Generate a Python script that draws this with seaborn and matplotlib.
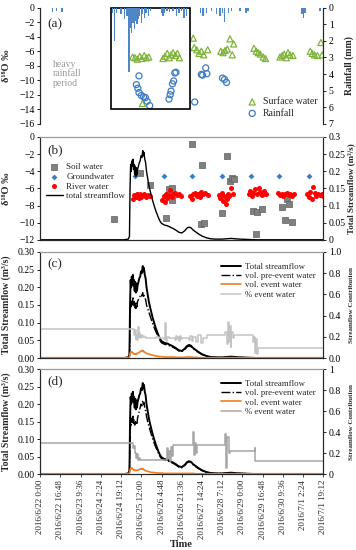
import matplotlib
matplotlib.use("Agg")
import matplotlib.pyplot as plt
from matplotlib.patches import Rectangle
from matplotlib.ticker import FormatStrFormatter
import seaborn as sns

# time axis: days since 2016/6/22 0:00
time_ticks = [0.0, 0.7, 1.4, 2.1, 2.8, 3.5, 4.2, 4.9, 5.6, 6.3, 7.0, 7.7, 8.4, 9.1, 9.8]
time_labels = ["2016/6/22 0:00", "2016/6/22 16:48", "2016/6/23 9:36", "2016/6/24 2:24",
               "2016/6/24 19:12", "2016/6/25 12:00", "2016/6/26 4:48", "2016/6/26 21:36",
               "2016/6/27 14:24", "2016/6/28 7:12", "2016/6/29 0:00", "2016/6/29 16:48",
               "2016/6/30 9:36", "2016/7/1 2:24", "2016/7/1 19:12"]

# (a) rainfall depth and isotopes
rain_day = [0.42, 0.56, 0.76,
            2.51, 2.57, 2.65, 2.80, 2.92, 3.00, 3.07, 3.12, 3.16, 3.21, 3.26,
            3.30, 3.35, 3.39, 3.44, 3.50, 3.55, 3.61, 3.67, 3.74, 3.81,
            4.19, 4.25, 4.31, 4.39, 4.48, 4.60, 4.71, 4.81, 4.89, 4.98, 5.06,
            5.55, 5.64, 5.76, 5.93, 6.10, 6.22, 6.31, 6.39, 6.51, 6.63, 6.91, 7.12, 7.20,
            9.06, 9.11, 9.17, 9.69]
rain_mm = [0.25, 0.2, 0.25,
           0.3, 2.0, 0.3, 0.4, 0.7, 0.5, 3.85, 1.2, 1.5, 0.9, 1.3,
           0.8, 1.0, 0.7, 0.5, 0.9, 0.4, 0.6, 0.3, 0.5, 0.2,
           0.3, 0.5, 0.3, 0.2, 0.25, 0.2, 0.5, 0.3, 0.2, 0.6, 0.5,
           0.3, 0.5, 0.3, 0.2, 0.4, 0.5, 0.3, 0.85, 0.3, 0.2, 0.2, 0.3, 0.2,
           0.4, 0.6, 0.3, 0.2]

surface_day = [3.20, 3.28, 3.36, 3.45, 3.52, 3.60, 3.68, 3.76, 3.54,
               4.25, 4.32, 4.40, 4.47, 4.53, 4.60, 4.68, 4.75, 4.82,
               5.30, 5.33, 5.42, 5.50, 5.58, 5.66, 5.80,
               6.25, 6.33, 6.40, 6.48, 6.57, 6.65, 6.70,
               7.40, 7.48, 7.55, 7.62, 7.72, 7.80,
               8.30, 8.38, 8.45, 8.52, 8.58, 8.65, 8.75,
               9.35, 9.42, 9.50, 9.60, 9.72, 9.76]
surface_d18o = [-6.8, -6.9, -7.1, -6.7, -7.0, -6.6, -6.9, -6.8, -13.2,
                -7.0, -6.7, -6.3, -6.9, -6.5, -6.2, -6.6, -6.3, -6.9,
                -4.2, -5.5, -5.8, -6.3, -6.0, -6.5, -5.8,
                -6.0, -6.2, -5.9, -5.7, -4.3, -6.5, -5.0,
                -5.6, -6.0, -6.2, -6.4, -6.8, -7.0,
                -6.8, -6.6, -6.4, -6.9, -6.2, -6.5, -6.6,
                -6.0, -6.3, -6.5, -6.6, -4.8, -6.5]

rain_iso_day = [3.42, 3.33, 3.38, 3.42, 3.50, 3.58, 3.64, 3.70, 3.79,
                4.46, 4.50, 4.53, 4.58, 4.62, 4.66, 4.70,
                5.35, 5.58, 5.73, 5.77, 5.62,
                6.31, 6.38, 6.45]
rain_iso_d18o = [-9.4, -10.6, -11.1, -11.7, -12.1, -12.3, -12.4, -12.9, -13.5,
                 -12.6, -12.0, -11.5, -10.5, -10.1, -9.0, -8.9,
                 -13.0, -9.2, -8.3, -9.1, -9.3,
                 -9.7, -9.9, -10.3]

# heavy rainfall period box (days)
heavy_start, heavy_end, heavy_bottom = 2.46, 5.20, -14.0

# (b) end members
soil_day = [2.54, 3.44, 3.79, 4.37, 4.46, 4.58, 4.58, 5.27, 5.60, 5.55, 5.66, 6.31, 6.47,
            6.57, 6.63, 6.70, 7.36, 7.50, 7.68, 7.47, 8.38, 8.55, 8.62, 8.47, 8.72]
soil_d18o = [-9.6, -4.25, -5.6, -9.4, -6.1, -5.9, -7.3, -0.85, -3.25, -10.2, -10.0, -8.85, -2.25,
             -5.1, -4.8, -4.9, -8.6, -8.7, -8.4, -11.35, -8.15, -7.2, -7.85, -9.65, -9.95]

gw_day = [3.27, 4.27, 5.27, 6.28, 7.29, 8.28, 9.29]
gw_d18o = [-4.5, -4.5, -4.5, -4.5, -4.5, -4.5, -4.5]

river_day = [3.22, 3.26, 3.30, 3.34, 3.38, 3.42, 3.46, 3.50, 3.55, 3.60, 3.66, 3.72, 3.80,
             4.22, 4.27, 4.31, 4.36, 4.40, 4.45, 4.50, 4.55, 4.60, 4.66, 4.72, 4.80, 4.88,
             5.20, 5.25, 5.30, 5.36, 5.42, 5.48, 5.53, 5.58, 5.65, 5.72, 5.80,
             6.20, 6.24, 6.28, 6.33, 6.38, 6.42, 6.46, 6.50, 6.55, 6.60, 6.66,
             7.22, 7.27, 7.32, 7.38, 7.44, 7.50, 7.56, 7.62, 7.68, 7.75, 7.82,
             8.24, 8.30, 8.36, 8.42, 8.48, 8.54, 8.60, 8.66, 8.72, 8.80,
             9.25, 9.30, 9.35, 9.40, 9.45, 9.50, 9.56, 9.62, 9.68, 9.74, 9.80]
river_d18o = [-7.2, -6.8, -7.0, -6.6, -6.9, -7.1, -6.7, -7.0, -6.8, -6.6, -7.0, -6.8, -6.9,
              -7.3, -6.9, -7.6, -6.6, -7.1, -6.8, -6.2, -7.0, -6.7, -6.5, -6.8, -6.6, -6.9,
              -6.9, -7.2, -6.7, -6.5, -6.9, -6.6, -7.0, -6.4, -6.7, -6.5, -6.8,
              -6.8, -7.1, -6.5, -7.5, -6.9, -7.8, -7.2, -6.6, -6.9, -6.0, -6.7,
              -6.6, -6.3, -6.9, -6.5, -6.1, -6.7, -6.0, -6.4, -6.8, -6.3, -6.6,
              -6.5, -6.8, -6.6, -6.9, -6.7, -6.5, -6.8, -6.6, -6.9, -6.7,
              -6.6, -7.0, -6.4, -7.2, -5.8, -6.5, -6.9, -6.6, -6.8, -6.7, -6.9]

# streamflow (m3/s)
flow_day = [0.00, 2.90, 3.05, 3.09, 3.11, 3.13, 3.15, 3.17,
            3.19, 3.21, 3.23, 3.25, 3.27, 3.29, 3.31, 3.33,
            3.35, 3.37, 3.40, 3.43, 3.46, 3.49, 3.52, 3.55,
            3.57, 3.59, 3.62, 3.65, 3.68, 3.72, 3.76, 3.80,
            3.85, 3.90, 3.95, 4.00, 4.05, 4.10, 4.15, 4.20,
            4.30, 4.40, 4.50, 4.60, 4.70, 4.80, 4.90, 5.00,
            5.08, 5.15, 5.22, 5.30, 5.40, 5.50, 5.60, 5.75,
            5.90, 6.05, 6.30, 6.60, 6.90, 7.20, 7.50, 9.80]
total_flow = [0.000, 0.000, 0.002, 0.010, 0.150, 0.220, 0.200, 0.230,
              0.215, 0.235, 0.205, 0.220, 0.190, 0.215, 0.185, 0.210,
              0.190, 0.205, 0.215, 0.225, 0.230, 0.245, 0.240, 0.260,
              0.245, 0.255, 0.235, 0.225, 0.200, 0.180, 0.160, 0.145,
              0.128, 0.112, 0.098, 0.085, 0.074, 0.063, 0.054, 0.048,
              0.043, 0.041, 0.037, 0.033, 0.028, 0.022, 0.020, 0.026,
              0.034, 0.037, 0.035, 0.028, 0.022, 0.016, 0.011, 0.006,
              0.003, 0.002, 0.002, 0.004, 0.002, 0.001, 0.000, 0.000]
pre_event_c = [0.000, 0.000, 0.001, 0.005, 0.100, 0.160, 0.145, 0.165,
               0.150, 0.170, 0.150, 0.160, 0.140, 0.155, 0.140, 0.155,
               0.145, 0.160, 0.165, 0.170, 0.175, 0.180, 0.175, 0.185,
               0.175, 0.180, 0.170, 0.165, 0.150, 0.140, 0.130, 0.120,
               0.108, 0.096, 0.085, 0.075, 0.066, 0.057, 0.049, 0.043,
               0.039, 0.037, 0.034, 0.030, 0.026, 0.020, 0.018, 0.024,
               0.031, 0.034, 0.032, 0.026, 0.020, 0.015, 0.010, 0.005,
               0.003, 0.002, 0.002, 0.003, 0.002, 0.001, 0.000, 0.000]
event_c = [0.001, 0.001, 0.001, 0.003, 0.012, 0.017, 0.016, 0.018,
           0.016, 0.014, 0.012, 0.013, 0.011, 0.012, 0.011, 0.013,
           0.012, 0.013, 0.015, 0.016, 0.018, 0.020, 0.019, 0.022,
           0.018, 0.019, 0.016, 0.015, 0.013, 0.012, 0.011, 0.010,
           0.009, 0.008, 0.007, 0.006, 0.005, 0.005, 0.004, 0.004,
           0.003, 0.003, 0.003, 0.003, 0.002, 0.002, 0.002, 0.002,
           0.003, 0.003, 0.003, 0.002, 0.002, 0.001, 0.001, 0.001,
           0.001, 0.001, 0.001, 0.001, 0.001, 0.001, 0.001, 0.001]
pre_event_d = [0.000, 0.000, 0.001, 0.005, 0.095, 0.150, 0.140, 0.160,
               0.145, 0.165, 0.145, 0.155, 0.140, 0.150, 0.140, 0.150,
               0.145, 0.160, 0.170, 0.180, 0.190, 0.200, 0.195, 0.210,
               0.200, 0.205, 0.190, 0.180, 0.165, 0.150, 0.138, 0.126,
               0.112, 0.099, 0.087, 0.077, 0.068, 0.058, 0.050, 0.044,
               0.040, 0.038, 0.035, 0.031, 0.026, 0.020, 0.018, 0.024,
               0.032, 0.035, 0.033, 0.026, 0.020, 0.015, 0.010, 0.005,
               0.003, 0.002, 0.002, 0.003, 0.002, 0.001, 0.000, 0.000]
event_d = [0.001, 0.001, 0.001, 0.003, 0.011, 0.016, 0.015, 0.018,
           0.016, 0.014, 0.012, 0.012, 0.010, 0.011, 0.010, 0.011,
           0.010, 0.011, 0.012, 0.013, 0.014, 0.016, 0.014, 0.016,
           0.013, 0.013, 0.011, 0.010, 0.009, 0.008, 0.007, 0.006,
           0.005, 0.005, 0.004, 0.004, 0.003, 0.003, 0.003, 0.003,
           0.002, 0.002, 0.002, 0.002, 0.002, 0.002, 0.002, 0.002,
           0.002, 0.002, 0.002, 0.002, 0.001, 0.001, 0.001, 0.001,
           0.001, 0.001, 0.001, 0.001, 0.001, 0.001, 0.001, 0.001]

# % event water (fraction, step series)
pct_c_day = [0.00, 3.25, 3.27, 3.30, 3.32, 3.35, 3.38, 3.41, 3.43, 3.47,
             3.50, 3.53, 3.56, 3.60, 3.65, 3.75, 4.00, 4.10, 4.20, 4.30,
             4.33, 4.36, 4.40, 4.45, 4.65, 4.70, 4.73, 4.76, 4.80, 4.84,
             4.88, 4.92, 4.95, 5.15, 5.20, 5.25, 5.30, 5.38, 5.45, 5.55,
             5.62, 5.76, 6.40, 6.45, 6.50, 6.53, 6.56, 6.59, 6.62, 6.66,
             6.70, 6.80, 7.37, 7.40, 7.43, 7.47, 7.50, 7.54, 7.60, 9.80]
pct_c = [0.27, 0.22, 0.26, 0.18, 0.22, 0.17, 0.29, 0.20, 0.24, 0.19,
         0.22, 0.20, 0.21, 0.20, 0.19, 0.19, 0.20, 0.19, 0.19, 0.18,
         0.33, 0.16, 0.20, 0.19, 0.17, 0.21, 0.18, 0.20, 0.16, 0.21,
         0.18, 0.19, 0.19, 0.17, 0.21, 0.16, 0.20, 0.15, 0.22, 0.14,
         0.19, 0.22, 0.25, 0.13, 0.34, 0.15, 0.30, 0.10, 0.25, 0.19,
         0.22, 0.22, 0.15, 0.20, 0.05, 0.18, 0.04, 0.09, 0.09, 0.09]
pct_d_day = [0.00, 3.22, 3.25, 3.28, 3.31, 3.34, 3.37, 3.42, 3.47, 4.40,
             4.43, 4.46, 4.49, 4.52, 4.56, 4.60, 5.30, 5.33, 5.36, 5.40,
             5.43, 6.40, 6.44, 6.48, 6.52, 6.56, 7.42, 7.44, 9.80]
pct_d = [0.295, 0.25, 0.27, 0.20, 0.15, 0.19, 0.13, 0.15, 0.13, 0.25,
         0.15, 0.22, 0.12, 0.26, 0.17, 0.28, 0.40, 0.18, 0.30, 0.20,
         0.28, 0.38, 0.06, 0.35, 0.20, 0.22, 0.25, 0.12, 0.12]

sns.set_style("ticks")
plt.rcParams["font.family"] = ["Liberation Serif", "DejaVu Serif"]
plt.rcParams["axes.linewidth"] = 0.8
plt.rcParams["xtick.major.width"] = 0.6
plt.rcParams["ytick.major.width"] = 0.6
plt.rcParams["xtick.major.size"] = 2.5
plt.rcParams["ytick.major.size"] = 2.5

fig = plt.figure(figsize=(3.56, 5.5), dpi=100)
left, width = 0.113, 0.795
tick_fs = 7
lab_fs = 7


def style_axis(ax, twin):
    for a in (ax, twin):
        a.set_xlim(0, 9.8)
        a.tick_params(axis="y", labelsize=tick_fs, pad=1.5, colors="black")
        a.spines["top"].set_color("#999999")


# ---------------- (a)
ax_a = fig.add_axes([left, 0.775, width, 0.211])
sns.scatterplot(x=surface_day, y=surface_d18o, marker="^", s=19, facecolors="none",
                edgecolor="#80b33c", linewidth=0.9, label="Surface water", legend=False, ax=ax_a)
sns.scatterplot(x=rain_iso_day, y=rain_iso_d18o, marker="o", s=19, facecolors="none",
                edgecolor="#3d7cc4", linewidth=0.9, label="Rainfall", legend=False, ax=ax_a)
ax_a.add_patch(Rectangle((heavy_start, heavy_bottom), heavy_end - heavy_start, -heavy_bottom,
                         fill=False, ec="black", lw=1.2, clip_on=False, zorder=5))
ax_a.text(0.45, -7.2, "heavy\nrainfall\nperiod", color="#999999", fontsize=7,
          va="top", ha="left", linespacing=1.05)
ax_a.text(0.025, 0.86, "(a)", transform=ax_a.transAxes, fontsize=9.5, va="center")
ax_a.set_ylim(-16, 0)
ax_a.set_yticks(range(-16, 1, 2))
ax_a.set_ylabel("δ¹⁸O ‰", fontsize=lab_fs + 0.5, fontweight="bold")
ax_a.yaxis.set_label_coords(-0.105, 0.5)
ax_a.legend(loc="lower right", bbox_to_anchor=(1.0, 0.0), frameon=False, fontsize=7,
            handletextpad=0.5, labelspacing=0.25, borderaxespad=0.2, handlelength=1.2)

ax_ar = ax_a.twinx()
ax_ar.bar(rain_day, rain_mm, width=0.05, color="#4f86c6", linewidth=0)
ax_ar.set_ylim(7, 0)
ax_ar.set_yticks(range(0, 8))
ax_ar.set_ylabel("Rainfall (mm)", fontsize=lab_fs, fontweight="bold")
ax_ar.yaxis.set_label_coords(1.075, 0.5)
style_axis(ax_a, ax_ar)
for a in (ax_a, ax_ar):
    a.spines["top"].set_visible(False)
    a.spines["bottom"].set_visible(False)
    a.set_xticks([])

# ---------------- (b)
ax_b = fig.add_axes([left, 0.564, width, 0.187])
sns.scatterplot(x=soil_day, y=soil_d18o, marker="s", s=13, color="#808080",
                edgecolor="#5f5f5f", linewidth=0.5, label="Soil water", legend=False, ax=ax_b)
sns.scatterplot(x=gw_day, y=gw_d18o, marker="D", s=9, color="#3f7cc4",
                linewidth=0, label="Groundwater", legend=False, ax=ax_b)
sns.scatterplot(x=river_day, y=river_d18o, marker="o", s=13, color="#ff0000",
                linewidth=0, label="River water", legend=False, ax=ax_b)
ax_b.set_ylim(-12, 0)
ax_b.set_yticks(range(-12, 1, 2))
ax_b.set_ylabel("δ¹⁸O ‰", fontsize=lab_fs + 0.5, fontweight="bold")
ax_b.yaxis.set_label_coords(-0.105, 0.5)
ax_b.text(0.025, 0.87, "(b)", transform=ax_b.transAxes, fontsize=9.5, va="center")

ax_br = ax_b.twinx()
sns.lineplot(x=flow_day, y=total_flow, color="black", linewidth=1.0, estimator=None,
             sort=False, label="total streamflow", legend=False, ax=ax_br)
ax_br.set_ylim(0, 0.3)
ax_br.set_yticks([0, 0.05, 0.1, 0.15, 0.2, 0.25, 0.3])
ax_br.set_yticklabels(["0", "0.05", "0.1", "0.15", "0.2", "0.25", "0.3"])
ax_br.set_ylabel("Total Streamflow (m³/s)", fontsize=6.5, fontweight="bold")
ax_br.yaxis.set_label_coords(1.085, 0.5)
style_axis(ax_b, ax_br)
h1, l1 = ax_b.get_legend_handles_labels()
h2, l2 = ax_br.get_legend_handles_labels()
ax_br.legend(h1 + h2, l1 + l2, loc="upper left", bbox_to_anchor=(0.0, 0.80), frameon=False,
             fontsize=6.5, handlelength=1.9, handletextpad=0.4, labelspacing=0.15, borderaxespad=0.2)


def flow_panel(ax, pre_event, event, pct_day, pct, pct_color, tag, right_labels):
    sns.lineplot(x=flow_day, y=total_flow, color="black", linewidth=1.4, estimator=None,
                 sort=False, label="Total streamflow", legend=False, ax=ax)
    sns.lineplot(x=flow_day, y=pre_event, color="black", linewidth=1.0, linestyle="-.",
                 estimator=None, sort=False, label="vol. pre-event water", legend=False, ax=ax)
    sns.lineplot(x=flow_day, y=event, color="#f07f24", linewidth=1.2, estimator=None,
                 sort=False, label="vol. event water", legend=False, ax=ax)
    ax.set_ylim(0, 0.30)
    ax.set_yticks([0, 0.05, 0.10, 0.15, 0.20, 0.25, 0.30])
    ax.yaxis.set_major_formatter(FormatStrFormatter("%.2f"))
    ax.set_ylabel("Total Streamflow (m³/s)", fontsize=lab_fs, fontweight="bold")
    ax.yaxis.set_label_coords(-0.105, 0.5)
    ax.text(0.025, 0.88, tag, transform=ax.transAxes, fontsize=9.5, va="center")

    twin = ax.twinx()
    sns.lineplot(x=pct_day, y=pct, color=pct_color, linewidth=1.1, drawstyle="steps-post",
                 estimator=None, sort=False, label="% event water", legend=False, ax=twin)
    twin.set_ylim(0, 1.0)
    twin.set_yticks([0, 0.2, 0.4, 0.6, 0.8, 1.0])
    twin.set_yticklabels(right_labels)
    twin.set_ylabel("Streamflow Contribution", fontsize=5, fontweight="bold")
    twin.yaxis.set_label_coords(1.09, 0.5)
    style_axis(ax, twin)
    h1, l1 = ax.get_legend_handles_labels()
    h2, l2 = twin.get_legend_handles_labels()
    twin.legend(h1 + h2, l1 + l2, loc="upper right", bbox_to_anchor=(0.99, 0.95), frameon=False,
                fontsize=6.3, handlelength=2.3, handletextpad=0.4, labelspacing=0.15,
                borderaxespad=0.2)
    return twin


# ---------------- (c)
ax_c = fig.add_axes([left, 0.349, width, 0.193])
ax_cr = flow_panel(ax_c, pre_event_c, event_c, pct_c_day, pct_c, "#c3c3c3", "(c)",
                   ["0.0", "0.2", "0.4", "0.6", "0.8", "1.0"])

# ---------------- (d)
ax_d = fig.add_axes([left, 0.138, width, 0.191])
ax_dr = flow_panel(ax_d, pre_event_d, event_d, pct_d_day, pct_d, "#a6a6a6", "(d)",
                   ["0", "0.2", "0.4", "0.6", "0.8", "1"])

for a in (ax_b, ax_br, ax_c, ax_cr):
    a.set_xticks([])
ax_dr.set_xticks([])
ax_d.set_xticks(time_ticks)
ax_d.set_xticklabels(time_labels, rotation=90, fontsize=6.5)
ax_d.tick_params(axis="x", pad=1.5)
ax_d.set_xlabel("Time", fontsize=7.5, fontweight="bold", labelpad=1)

fig.savefig("out.png", dpi=100)
